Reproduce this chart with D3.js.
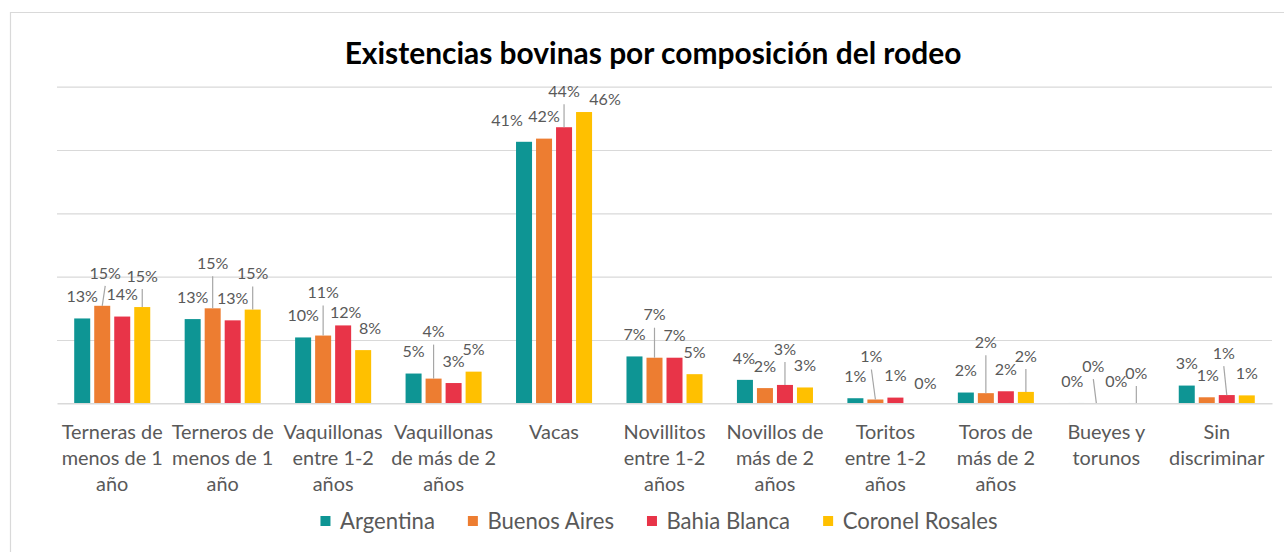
<!DOCTYPE html>
<meta charset="utf-8">
<style>
  body { margin: 0; background: #fff; }
  svg { display: block; font-family: Lato, "Open Sans", sans-serif; }
</style>

<script src="https://d3js.org/d3.v7.min.js"></script>

<div id="chart"></div>

<script>
// categories (line breaks as in the original axis)
const categories = [
  ["Terneras de", "menos de 1", "año"],
  ["Terneros de", "menos de 1", "año"],
  ["Vaquillonas", "entre 1-2", "años"],
  ["Vaquillonas", "de más de 2", "años"],
  ["Vacas"],
  ["Novillitos", "entre 1-2", "años"],
  ["Novillos de", "más de 2", "años"],
  ["Toritos", "entre 1-2", "años"],
  ["Toros de", "más de 2", "años"],
  ["Bueyes y", "torunos"],
  ["Sin", "discriminar"]
]
const seriesNames = ["Argentina", "Buenos Aires", "Bahia Blanca", "Coronel Rosales"]

// shares in %
const argentina      = [13.4, 13.3, 10.4, 4.7, 41.3, 7.4, 3.7, 0.8, 1.7, 0.05, 2.8]
const buenosAires    = [15.4, 15.0, 10.7, 3.9, 41.8, 7.2, 2.4, 0.6, 1.6, 0.02, 0.95]
const bahiaBlanca    = [13.7, 13.1, 12.3, 3.2, 43.6, 7.2, 2.9, 0.9, 1.9, 0.03, 1.3]
const coronelRosales = [15.2, 14.8, 8.4, 5.0, 46.0, 4.6, 2.5, 0.0, 1.8, 0.04, 1.25]
const seriesValues = [argentina, buenosAires, bahiaBlanca, coronelRosales]

const yTicks = [10, 20, 30, 40, 50]
const colours = ["#0E9594", "#ED7D31", "#E83448", "#FFC000"]

// hand-moved data labels (extra lift / sideways shift in px), like in the excel sheet
const labelLift = [
  [0, 0, 0, 0, 0, 0, 0, 0, 0, 0, 0],
  [11, 23, 21, 25, 0, 21, 0, 21, 29, 15, 0],
  [0, 0, -9, 0, 14, 0, 14, 0, 0, 0, 20],
  [9, 14, 0, 0, -9, 0, 0, -2, 14, 8, 0]
]
const labelShift = [
  [0, 0, 0, 0, -17, 0, -1, 0, 0, -4, 0],
  [3, 0, 0, 0, 0, 0, 0, -4, 0, -3, 1],
  [0, 0, 2.5, 0, 0, 0, 0, 0, 0, 0, -3],
  [0, 0, 7, 0, 21, 0, 0, 10, 0, 0, 0]
]

var width = 1284, height = 552
var plotLeft = 57, plotRight = 1272, plotTop = 86.7, plotBottom = 403.3
var textColour = "#595959"
var gridColour = "#D9D9D9"

var svg = d3.select("#chart")
  .append("svg")
    .attr("width", width)
    .attr("height", height)

// fit Lato sizes to the widths measured on the picture
function fitSize(txt, target, weight) {
  var t = svg.append("text")
    .attr("font-size", 100)
    .attr("font-weight", weight || "normal")
    .text(txt)
  var w = t.node().getComputedTextLength()
  t.remove()
  return 100 * target / w
}
var titleSize = fitSize("Existencias bovinas por composición del rodeo", 617, "bold")
var valueSize = fitSize("13%", 31.5)
var catSize = fitSize("Terneras de", 101)
var legendSize = fitSize("Coronel Rosales", 155)

// chart frame
svg.append("path")
  .attr("d", "M10.5,552V12.5H1284")
  .attr("fill", "none")
  .attr("stroke", gridColour)
  .attr("stroke-width", 1.2)

svg.append("text")
  .attr("x", 653)
  .attr("y", 64)
  .attr("text-anchor", "middle")
  .attr("font-weight", "bold")
  .attr("font-size", titleSize)
  .attr("fill", "#000")
  .text("Existencias bovinas por composición del rodeo")

var x0 = d3.scaleBand()
  .domain(d3.range(categories.length))
  .range([plotLeft, plotRight])

var x1 = d3.scaleBand()
  .domain(d3.range(seriesNames.length))
  .range([0, x0.bandwidth()])
  .paddingInner(0.2)
  .paddingOuter(0.86)

var y = d3.scaleLinear()
  .domain([0, 50])
  .range([plotBottom, plotTop])

// gridlines
var grid = svg.append("g")
  .attr("transform", "translate(" + plotLeft + ",0)")
  .call(d3.axisLeft(y).tickValues(yTicks).tickSize(-(plotRight - plotLeft)).tickFormat(""))
grid.select(".domain").remove()
grid.selectAll("line").attr("stroke", gridColour).attr("stroke-width", 1.2)

// bars
var groups = svg.selectAll("g.grp")
  .data(categories.map(function(c, i) { return i }))
  .enter()
  .append("g")
    .attr("class", "grp")
    .attr("transform", function(i) { return "translate(" + x0(i) + ",0)" })

var cells = function(i) {
  return seriesValues.map(function(vals, s) { return {s: s, i: i, v: vals[i]} })
}

groups.selectAll("rect")
  .data(cells)
  .enter()
  .append("rect")
    .attr("x", function(d) { return x1(d.s) })
    .attr("y", function(d) { return y(d.v) })
    .attr("width", x1.bandwidth())
    .attr("height", function(d) { return y(0) - y(d.v) })
    .attr("fill", function(d) { return colours[d.s] })

// x axis (baseline + category labels)
var xAxis = svg.append("g")
  .attr("transform", "translate(0," + plotBottom + ")")
  .call(d3.axisBottom(x0).tickSize(0).tickSizeOuter(0).tickFormat(""))
xAxis.select(".domain").attr("stroke", gridColour).attr("stroke-width", 1.4)

xAxis.selectAll(".tick text").each(function(i) {
  var t = d3.select(this)
    .attr("y", 36)
    .attr("dy", null)
    .attr("fill", textColour)
    .attr("font-size", catSize)
    .attr("font-family", "Lato, 'Open Sans', sans-serif")
  categories[i].forEach(function(line, k) {
    t.append("tspan").attr("x", 0).attr("dy", k === 0 ? 0 : 26).text(line)
  })
})

// data labels with leader lines
var labelX = function(d) { return x1(d.s) + x1.bandwidth() / 2 + labelShift[d.s][d.i] }
var labelY = function(d) { return y(d.v) - 22 - labelLift[d.s][d.i] }

groups.selectAll("line.leader")
  .data(function(i) { return cells(i).filter(function(d) { return labelLift[d.s][d.i] > 5 }) })
  .enter()
  .append("line")
    .attr("class", "leader")
    .attr("x1", labelX)
    .attr("y1", function(d) { return labelY(d) + 13 })
    .attr("x2", function(d) { return x1(d.s) + x1.bandwidth() / 2 })
    .attr("y2", function(d) { return y(d.v) })
    .attr("stroke", "#A6A6A6")
    .attr("stroke-width", 1.2)

groups.selectAll("text.val")
  .data(cells)
  .enter()
  .append("text")
    .attr("class", "val")
    .attr("x", labelX)
    .attr("y", labelY)
    .attr("dy", "0.36em")
    .attr("text-anchor", "middle")
    .attr("font-size", valueSize)
    .attr("fill", textColour)
    .text(function(d) { return Math.round(d.v) + "%" })

// legend
var legend = svg.append("g")
var swatch = 10, gapText = 9.5, gapItem = 33
var items = seriesNames.map(function(n) {
  var t = svg.append("text").attr("font-size", legendSize).text(n)
  var w = t.node().getComputedTextLength()
  t.remove()
  return {name: n, w: w}
})
var total = d3.sum(items, function(d) { return swatch + gapText + d.w }) + gapItem * (items.length - 1)
var lx = 659 - total / 2
items.forEach(function(it, s) {
  legend.append("rect")
    .attr("x", lx)
    .attr("y", 516)
    .attr("width", swatch)
    .attr("height", swatch)
    .attr("fill", colours[s])
  legend.append("text")
    .attr("x", lx + swatch + gapText)
    .attr("y", 521)
    .attr("dy", "0.36em")
    .attr("font-size", legendSize)
    .attr("fill", textColour)
    .text(it.name)
  lx += swatch + gapText + it.w + gapItem
})
</script>
